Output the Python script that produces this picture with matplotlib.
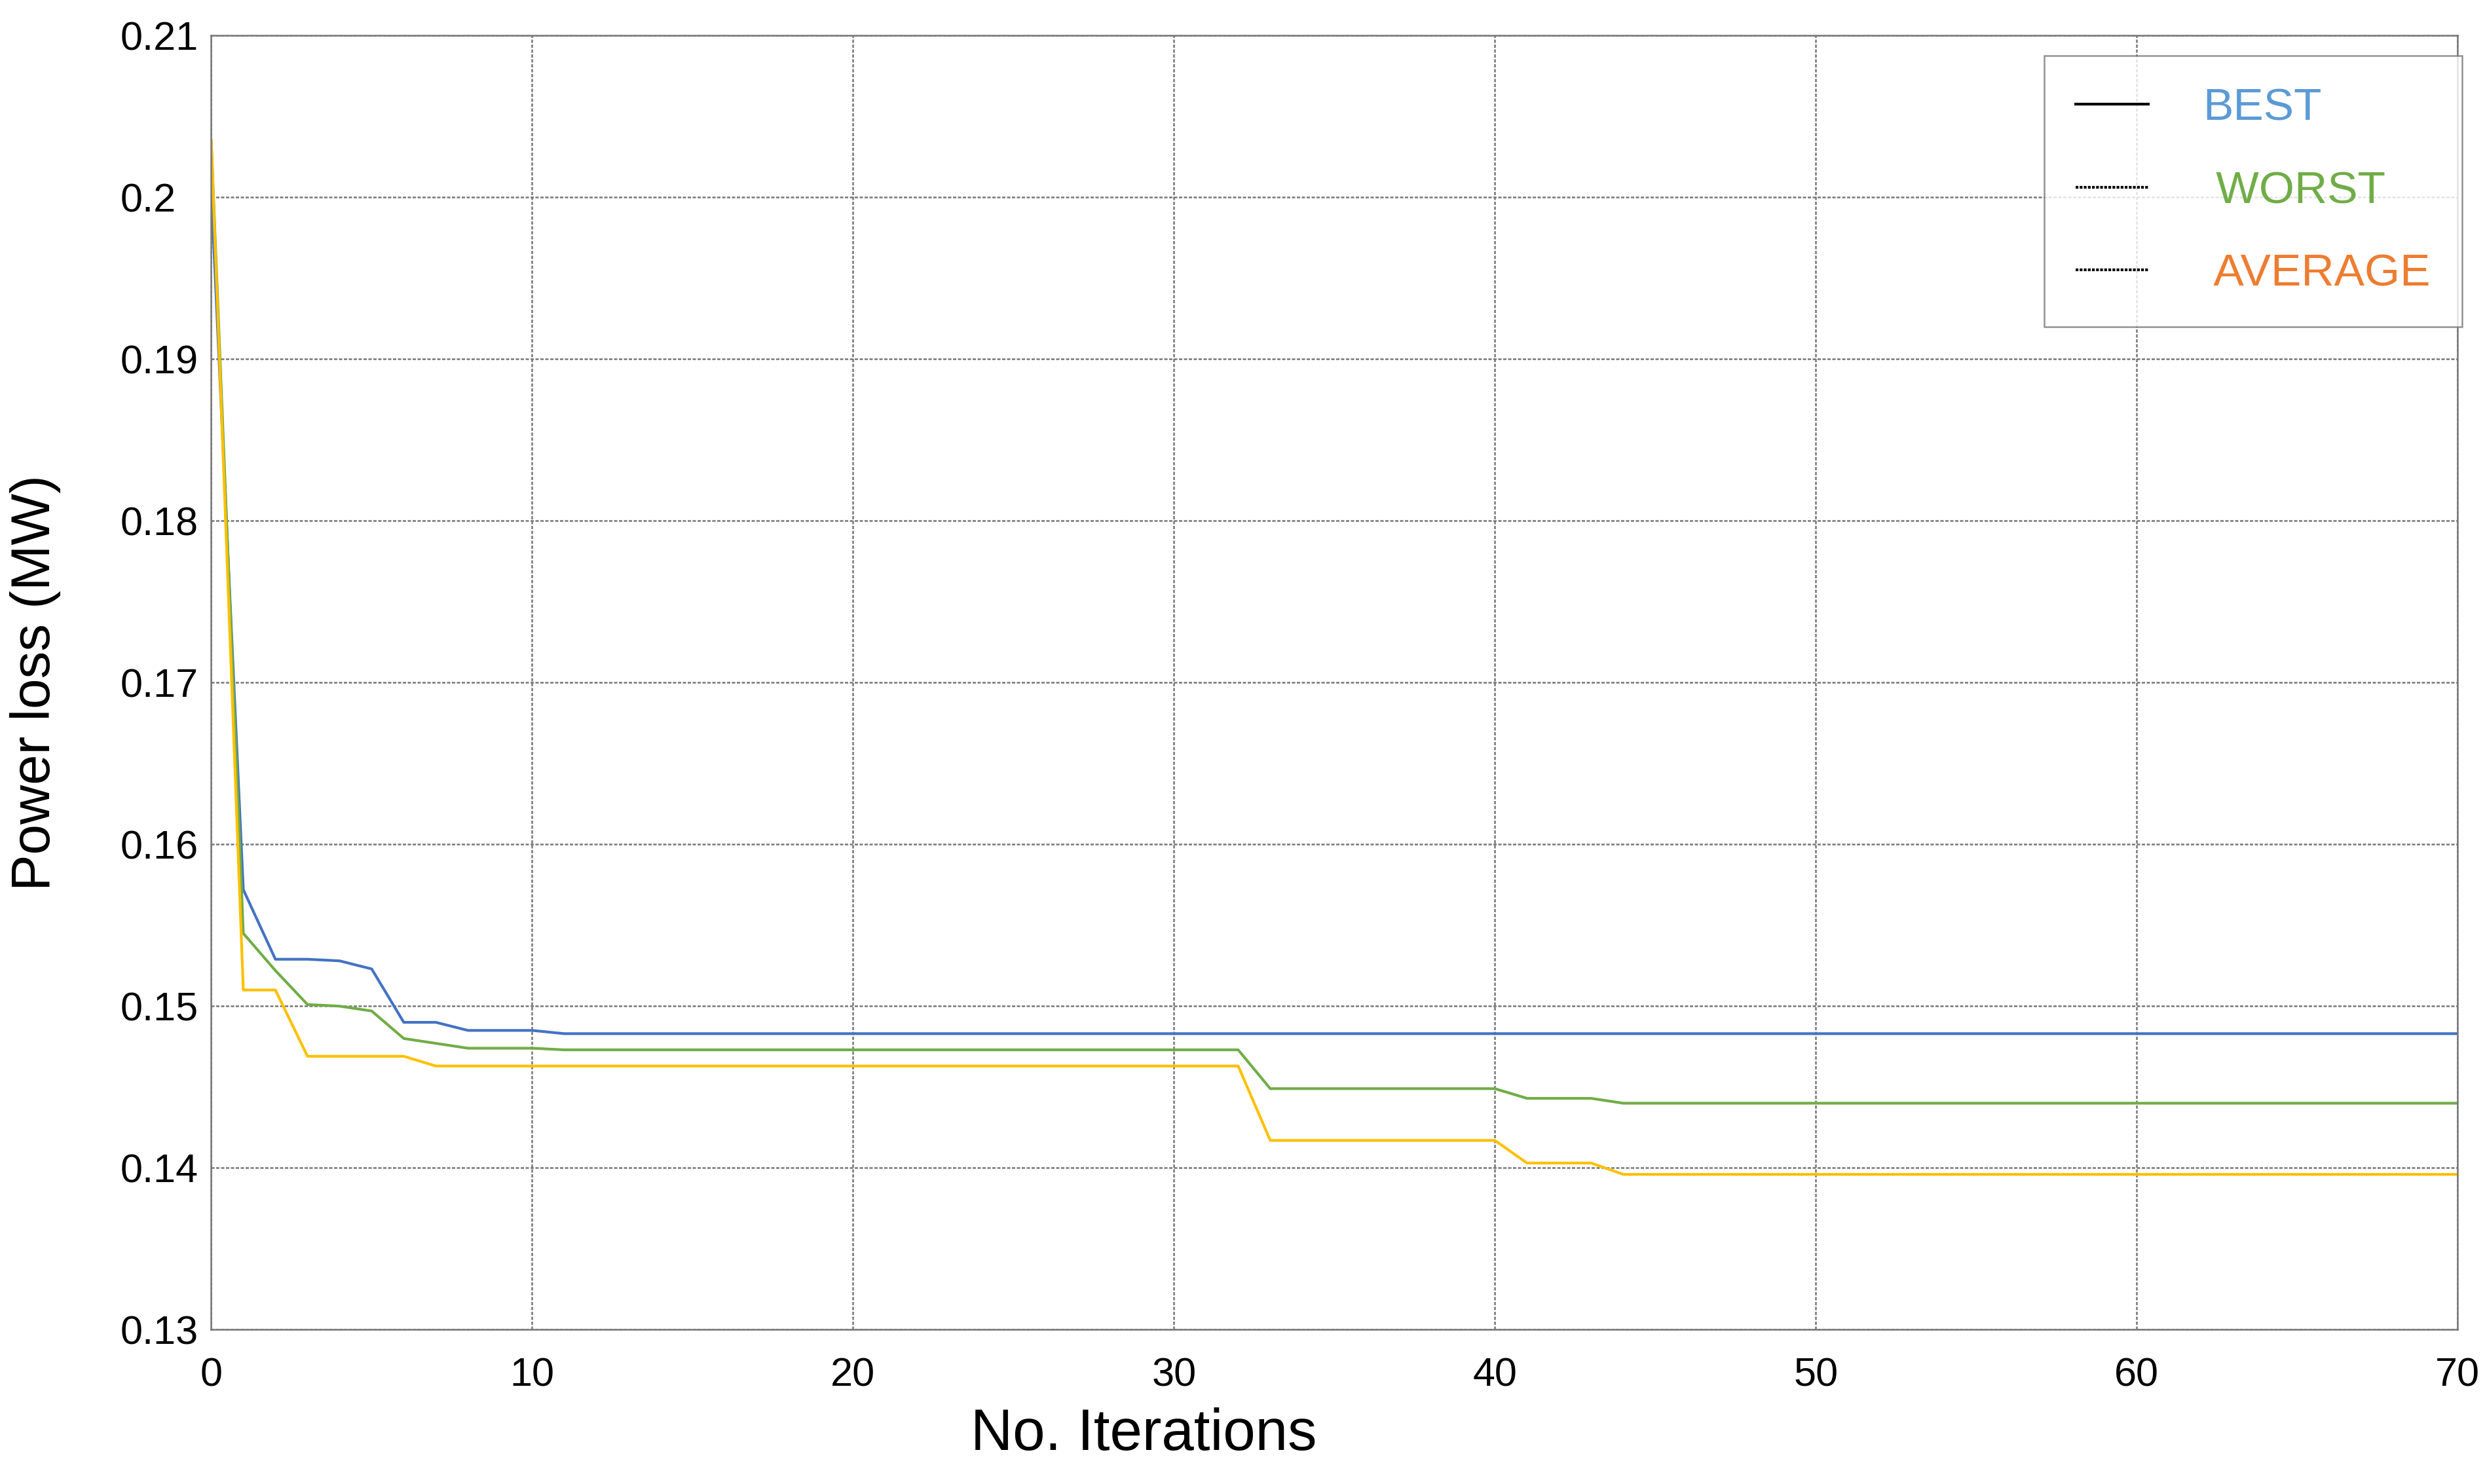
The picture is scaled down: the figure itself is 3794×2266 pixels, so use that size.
import matplotlib.pyplot as plt
import numpy as np
from matplotlib.lines import Line2D

plt.rcParams['font.family'] = ['Liberation Sans', 'DejaVu Sans']

iters = np.arange(0, 71)

def steps(points):
    # points: list of (start_iter, value); value holds until the next start
    out = np.empty(len(iters))
    for k, (s, v) in enumerate(points):
        e = points[k + 1][0] if k + 1 < len(points) else len(iters)
        out[s:e] = v
    return out

best = steps([(0, 0.2005), (1, 0.1572), (2, 0.1529), (4, 0.1528), (5, 0.1523),
              (6, 0.1490), (8, 0.1485), (11, 0.1483)])
worst = steps([(0, 0.2035), (1, 0.1545), (2, 0.1522), (3, 0.1501), (4, 0.1500),
               (5, 0.1497), (6, 0.1480), (7, 0.1477), (8, 0.1474), (11, 0.1473),
               (33, 0.1449), (41, 0.1443), (44, 0.1440)])
average = steps([(0, 0.2035), (1, 0.1510), (3, 0.1469), (7, 0.1463),
                 (33, 0.1417), (41, 0.1403), (44, 0.1396)])

fig = plt.figure(figsize=(37.94, 22.66), dpi=100)
ax = fig.add_axes([0.085, 0.104, 0.904, 0.872])

ax.plot(iters, best, color="#4472C4", lw=3)
ax.plot(iters, worst, color="#70AD47", lw=3)
ax.plot(iters, average, color="#FFC000", lw=3)

ax.set_xlim(0, 70)
ax.set_ylim(0.13, 0.21)
ax.set_xticks(np.arange(0, 71, 10))
ax.set_yticks(np.arange(0.13, 0.2101, 0.01))
ax.set_yticklabels(["0.13", "0.14", "0.15", "0.16", "0.17", "0.18", "0.19", "0.2", "0.21"])
ax.tick_params(length=0, labelsize=44)
ax.tick_params(axis="y", pad=100)
ax.tick_params(axis="x", pad=30)
for t in ax.get_yticklabels():
    t.set_horizontalalignment("left")
ax.grid(True, color="#777777", lw=1.8, ls=(0, (2, 1)))
for s in ax.spines.values():
    s.set_color("#777777")
    s.set_linewidth(1.8)

ax.set_xlabel("No. Iterations", fontsize=64, labelpad=25)
ax.xaxis.set_label_coords(0.415, -0.06)
ax.set_ylabel("Power loss (MW)", fontsize=60)
ax.yaxis.set_label_coords(-0.067, 0.5)

handles = [Line2D([], [], color="black", lw=3, ls="-"),
           Line2D([], [], color="black", lw=3, ls=(0, (1, 0.5))),
           Line2D([], [], color="black", lw=3, ls=(0, (1, 0.5)))]
leg = ax.legend(handles, ["BEST", " WORST", " AVERAGE"], loc="upper right",
                bbox_to_anchor=(1.012, 1.002), fontsize=50, frameon=True,
                fancybox=False, edgecolor="#777777", handlelength=1.6,
                handletextpad=1.2, labelspacing=0.9, borderpad=0.7)
leg.get_frame().set_linewidth(1.8)
for t, c in zip(leg.get_texts(), ["#5B9BD5", "#70AD47", "#ED7D31"]):
    t.set_color(c)

fig.savefig("out.png", dpi=100)
